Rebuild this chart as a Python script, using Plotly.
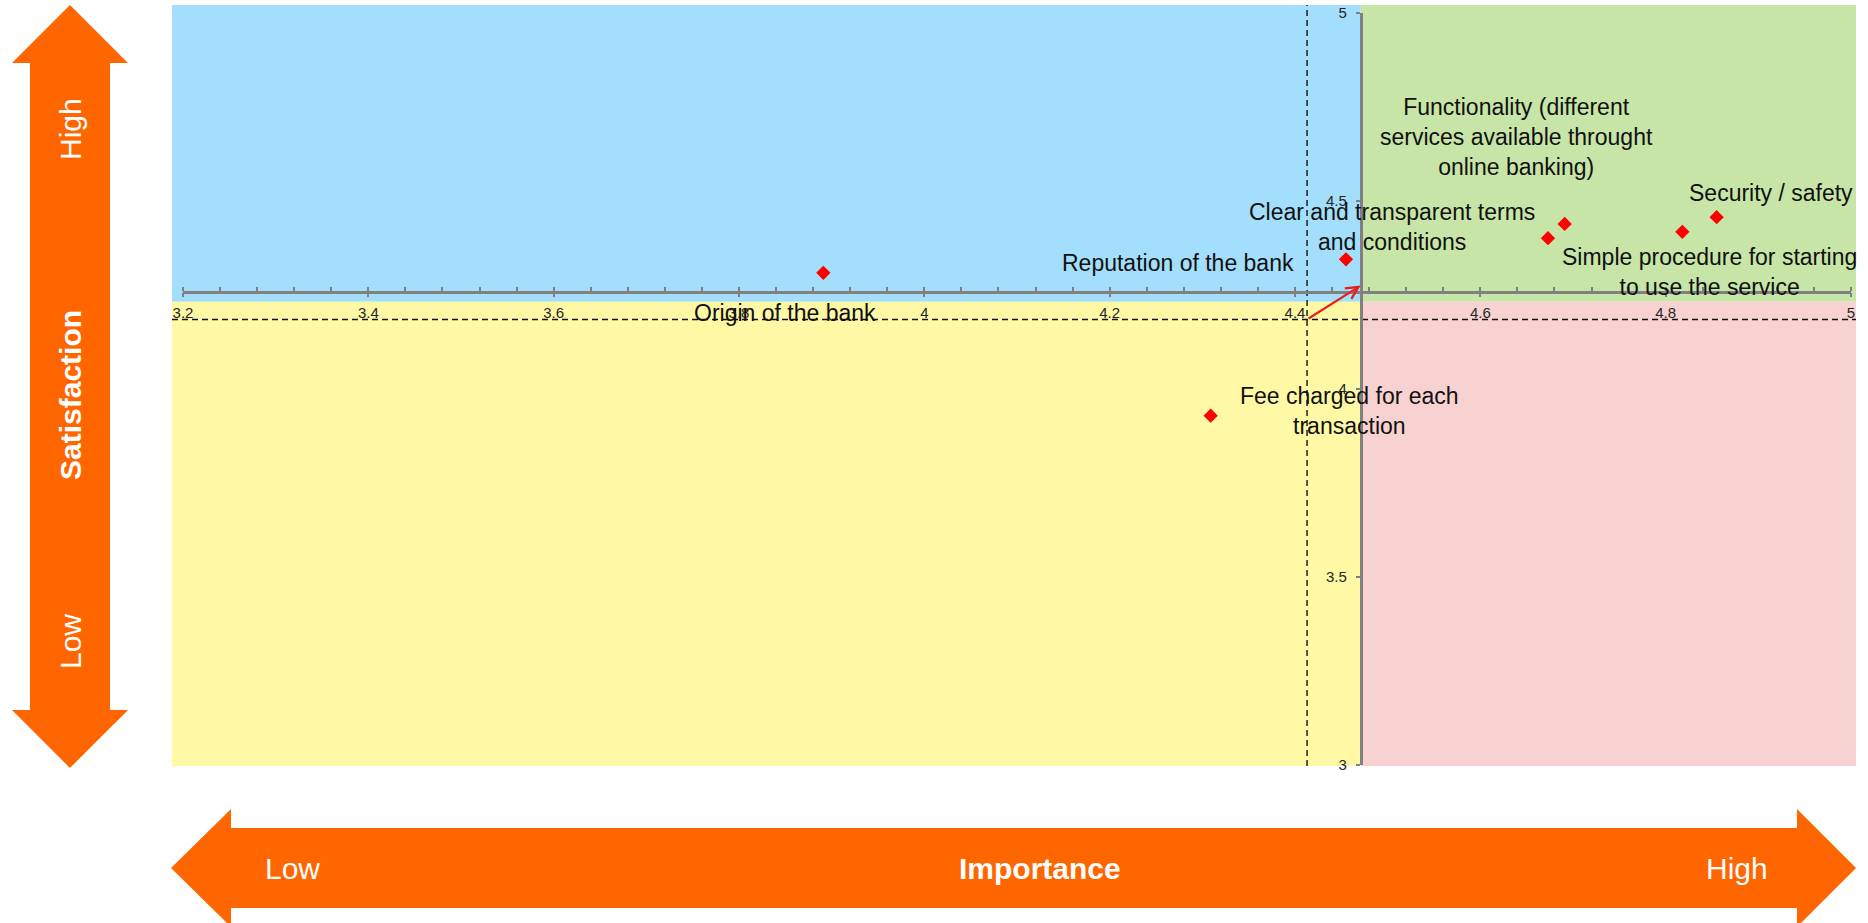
import plotly.graph_objects as go

# ---------------- data ----------------
labels = [
    "Origin of the bank",
    "Fee charged for each<br>transaction",
    "Reputation of the bank",
    "Clear and transparent terms<br>and conditions",
    "Functionality (different<br>services available throught<br>online banking)",
    "Simple procedure for starting<br>to use the service",
    "Security / safety",
]
importance = [3.891, 4.309, 4.455, 4.673, 4.691, 4.818, 4.855]
satisfaction = [4.309, 3.929, 4.345, 4.401, 4.439, 4.418, 4.457]

# label offsets (pixels) from each point
label_dx = [-38, 139, -168, -156, -48, 27, 54]
label_dy = [-40, 5, -4, 11, 87, -40, 24]

x_ticks = [3.2, 3.4, 3.6, 3.8, 4.0, 4.2, 4.4, 4.6, 4.8, 5.0]
y_ticks = [3, 3.5, 4, 4.5, 5]

axis_cross_x = 4.471   # where the satisfaction axis crosses
axis_cross_y = 4.259   # where the importance axis crosses
mean_importance = 4.413
mean_satisfaction = 4.185
quad_split_y = 4.232

# ---------------- layout geometry ----------------
W, H = 1868, 923
L, R, T, B = 183, 17, 13, 158
PW, PH = W - L - R, H - T - B
XR = [3.2, 5.0]
YR = [3.0, 5.0]
FONT = "Liberation Sans, Arial, sans-serif"
ORANGE = "#FF6600"


def px(xp, yp):
    return (xp - L) / PW, (H - B - yp) / PH


def path(points):
    pts = [px(a, b) for a, b in points]
    return "M " + " L ".join(f"{a:.5f},{b:.5f}" for a, b in pts) + " Z"


def xpaper(v):
    return (v - XR[0]) / (XR[1] - XR[0])


def ypaper(v):
    return (v - YR[0]) / (YR[1] - YR[0])


fig = go.Figure()

fig.add_trace(go.Scatter(
    x=importance, y=satisfaction, mode="markers",
    marker=dict(symbol="diamond", size=11, color="#FF0000", line=dict(width=0)),
    cliponaxis=False, hoverinfo="skip", showlegend=False,
))

shapes = []
# quadrant backgrounds (paper coords)
bx0, by_top = px(172, 5)
bx1, by_bot = px(1856, 766)
sx = xpaper(axis_cross_x)
sy = ypaper(quad_split_y)
for (x0, x1, y0, y1, c) in [
    (bx0, sx, sy, by_top, "#A3DFFD"),
    (sx, bx1, sy, by_top, "#C7E5A6"),
    (bx0, sx, by_bot, sy, "#FFF8A5"),
    (sx, bx1, by_bot, sy, "#F8D2D1"),
]:
    shapes.append(dict(type="rect", xref="paper", yref="paper", x0=x0, x1=x1, y0=y0, y1=y1,
                       fillcolor=c, line=dict(width=0), layer="below"))

# dashed mean lines
shapes.append(dict(type="line", xref="x", yref="paper", x0=mean_importance, x1=mean_importance,
                   y0=by_bot, y1=by_top, line=dict(color="#111111", width=1.4, dash="6px,4px"), layer="below"))
shapes.append(dict(type="line", xref="paper", yref="y", x0=bx0, x1=bx1,
                   y0=mean_satisfaction, y1=mean_satisfaction,
                   line=dict(color="#111111", width=1.4, dash="6px,4px"), layer="below"))

# orange double arrows
shapes.append(dict(type="path", xref="paper", yref="paper", layer="above",
                   path=path([(70, 5), (128, 63), (110, 63), (110, 710), (128, 710), (70, 768),
                              (12, 710), (30, 710), (30, 63), (12, 63)]),
                   fillcolor=ORANGE, line=dict(width=0)))
shapes.append(dict(type="path", xref="paper", yref="paper", layer="above",
                   path=path([(171, 868), (231, 809), (231, 828), (1797, 828), (1797, 809), (1856, 868),
                              (1797, 927), (1797, 908), (231, 908), (231, 927)]),
                   fillcolor=ORANGE, line=dict(width=0)))

annotations = []
for t, x, y, dx, dy in zip(labels, importance, satisfaction, label_dx, label_dy):
    annotations.append(dict(x=x, y=y, xref="x", yref="y", text=t, showarrow=False,
                            xshift=dx, yshift=dy, xanchor="center", yanchor="middle",
                            align="center", font=dict(family=FONT, size=23, color="#111111")))

# red arrow from mean point to axis crossing
annotations.append(dict(x=axis_cross_x, y=4.275, xref="x", yref="y",
                        ax=mean_importance, ay=mean_satisfaction, axref="x", ayref="y",
                        text="", showarrow=True, arrowhead=5, arrowsize=1.1, arrowwidth=2.2,
                        arrowcolor="#E8201C", standoff=0, startstandoff=0))

# arrow texts
vx, _ = px(70, 0)
for txt, yp in [("High", 129), ("<b>Satisfaction</b>", 395), ("Low", 642)]:
    _, yy = px(0, yp)
    annotations.append(dict(x=vx, y=yy, xref="paper", yref="paper", text=txt, showarrow=False,
                            textangle=-90, xanchor="center", yanchor="middle",
                            font=dict(family=FONT, size=30, color="white")))
_, hy = px(0, 868)
for txt, xp in [("Low", 292), ("<b>Importance</b>", 1040), ("High", 1737)]:
    xx, _ = px(xp, 0)
    annotations.append(dict(x=xx, y=hy, xref="paper", yref="paper", text=txt, showarrow=False,
                            xanchor="center", yanchor="middle",
                            font=dict(family=FONT, size=30, color="white")))

fig.update_layout(
    width=W, height=H,
    margin=dict(l=L, r=R, t=T, b=B, pad=0, autoexpand=False),
    paper_bgcolor="white", plot_bgcolor="rgba(0,0,0,0)",
    showlegend=False,
    shapes=shapes, annotations=annotations,
    xaxis=dict(range=XR, anchor="free", position=ypaper(axis_cross_y), automargin=False,
               tickmode="array", tickvals=x_ticks, ticktext=[f"{v:g}" for v in x_ticks],
               showline=True, linecolor="#808080", linewidth=2.5,
               ticks="outside", ticklen=4, tickwidth=2, tickcolor="#808080",
               minor=dict(ticks="inside", ticklen=4, tickwidth=1.5, tickcolor="#808080",
                          tick0=3.2, dtick=0.04, showgrid=False),
               showgrid=False, zeroline=False, ticklabelstandoff=3,
               tickfont=dict(family=FONT, size=15, color="#262626")),
    yaxis=dict(range=YR, anchor="free", position=xpaper(axis_cross_x), side="left", automargin=False,
               tickmode="array", tickvals=y_ticks, ticktext=[f"{v:g}" for v in y_ticks],
               showline=True, linecolor="#808080", linewidth=3,
               ticks="outside", ticklen=4, tickwidth=2, tickcolor="#808080",
               showgrid=False, zeroline=False, ticklabelstandoff=6,
               tickfont=dict(family=FONT, size=15, color="#262626")),
)

fig.write_html("out.html")
